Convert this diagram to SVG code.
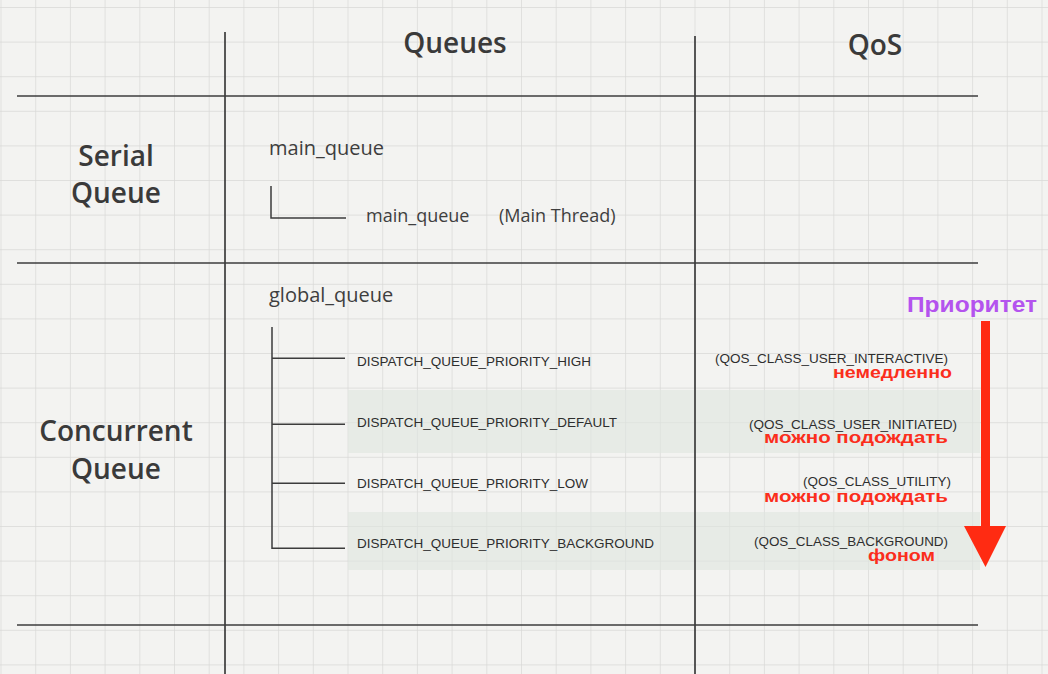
<svg xmlns="http://www.w3.org/2000/svg" width="1048" height="674" viewBox="0 0 1048 674">
  <defs>
    <pattern id="grid" patternUnits="userSpaceOnUse" x="0.5" y="7" width="34.7" height="34.6">
      <rect width="34.7" height="34.6" fill="#f3f3f1"/>
      <line x1="0" y1="0" x2="0" y2="34.6" stroke="#d9d9d7" stroke-width="1.4"/>
      <line x1="0" y1="0" x2="34.7" y2="0" stroke="#d9d9d7" stroke-width="1.4"/>
    </pattern>
    <style>
      .rule{stroke:#3c3c3c;stroke-width:1.7;fill:none}
      .tree{stroke:#3c3c3c;stroke-width:1.5;fill:none}
      .head{font-family:"Open Sans","Noto Sans",sans-serif;font-weight:600;font-size:28px;fill:#3a3a3a}
      .q{font-family:"Open Sans","Noto Sans",sans-serif;font-size:20px;fill:#3e3e3e}
      .q2{font-family:"Open Sans","Noto Sans",sans-serif;font-size:18px;fill:#3e3e3e}
      .d{font-family:"Liberation Sans",Arial,sans-serif;font-size:13px;fill:#2e2e2e}
      .r{font-family:"Liberation Sans",Arial,sans-serif;font-weight:bold;font-size:17px;fill:#fb2e1c}
      .p{font-family:"Liberation Sans",Arial,sans-serif;font-weight:bold;font-size:22px;fill:#b453ee}
      .band{fill:#dfe6df;opacity:0.6}
    </style>
  </defs>
  <rect width="1048" height="674" fill="url(#grid)"/>

  <g id="bands">
    <rect class="band" x="348" y="390" width="632" height="63"/>
    <rect class="band" x="348" y="512" width="632" height="58"/>
  </g>

  <g id="table">
    <line class="rule" x1="225" y1="32" x2="225" y2="674"/>
    <line class="rule" x1="695" y1="36" x2="695" y2="674"/>
    <line class="rule" x1="17" y1="96" x2="978" y2="96"/>
    <line class="rule" x1="17" y1="263" x2="978" y2="263"/>
    <line class="rule" x1="17" y1="625" x2="978" y2="625"/>
  </g>

  <g id="headers">
    <text class="head" x="455" y="53" text-anchor="middle">Queues</text>
    <text class="head" x="875" y="55" text-anchor="middle">QoS</text>
  </g>

  <g id="serial-label">
    <text class="head" x="116" y="166" text-anchor="middle">Serial</text>
    <text class="head" x="116" y="203" text-anchor="middle">Queue</text>
  </g>

  <g id="concurrent-label">
    <text class="head" x="116" y="441" text-anchor="middle">Concurrent</text>
    <text class="head" x="116" y="479" text-anchor="middle">Queue</text>
  </g>

  <g id="connectors">
    <path class="tree" d="M271 186 V218 H346"/>
    <path class="tree" d="M272 327 V548.3 H345"/>
    <line class="tree" x1="272" y1="358.3" x2="345" y2="358.3"/>
    <line class="tree" x1="272" y1="424.3" x2="345" y2="424.3"/>
    <line class="tree" x1="272" y1="483.3" x2="345" y2="483.3"/>
  </g>

  <g id="main-queue">
    <text class="q" x="269" y="155">main_queue</text>
    <text class="q2" x="366" y="222">main_queue</text>
    <text class="q2" x="499" y="222">(Main Thread)</text>
  </g>

  <g id="global-queue">
    <text class="q" x="269" y="302">global_queue</text>
  </g>

  <g id="prio-high">
    <text class="d" x="357" y="365.7" textLength="234" lengthAdjust="spacingAndGlyphs">DISPATCH_QUEUE_PRIORITY_HIGH</text>
    <text class="d" x="715" y="362.5" textLength="233" lengthAdjust="spacingAndGlyphs">(QOS_CLASS_USER_INTERACTIVE)</text>
    <text class="r" x="833" y="377.5" textLength="119" lengthAdjust="spacingAndGlyphs">немедленно</text>
  </g>
  <g id="prio-default">
    <text class="d" x="357" y="426.7" textLength="260" lengthAdjust="spacingAndGlyphs">DISPATCH_QUEUE_PRIORITY_DEFAULT</text>
    <text class="d" x="749" y="428.5" textLength="208" lengthAdjust="spacingAndGlyphs">(QOS_CLASS_USER_INITIATED)</text>
    <text class="r" x="764" y="442.5" textLength="184" lengthAdjust="spacingAndGlyphs">можно подождать</text>
  </g>
  <g id="prio-low">
    <text class="d" x="357" y="488" textLength="231" lengthAdjust="spacingAndGlyphs">DISPATCH_QUEUE_PRIORITY_LOW</text>
    <text class="d" x="803" y="486" textLength="148" lengthAdjust="spacingAndGlyphs">(QOS_CLASS_UTILITY)</text>
    <text class="r" x="764" y="501.5" textLength="184" lengthAdjust="spacingAndGlyphs">можно подождать</text>
  </g>
  <g id="prio-background">
    <text class="d" x="357" y="548.3" textLength="297" lengthAdjust="spacingAndGlyphs">DISPATCH_QUEUE_PRIORITY_BACKGROUND</text>
    <text class="d" x="754" y="546" textLength="194" lengthAdjust="spacingAndGlyphs">(QOS_CLASS_BACKGROUND)</text>
    <text class="r" x="868" y="560.5" textLength="67" lengthAdjust="spacingAndGlyphs">фоном</text>
  </g>

  <g id="priority-arrow">
    <text class="p" x="907" y="311.5" textLength="130" lengthAdjust="spacingAndGlyphs">Приоритет</text>
    <path d="M981 321 H990 V526 H1006 L985.5 567 L964 526 H981 Z" fill="#ff2b12"/>
  </g>
</svg>
